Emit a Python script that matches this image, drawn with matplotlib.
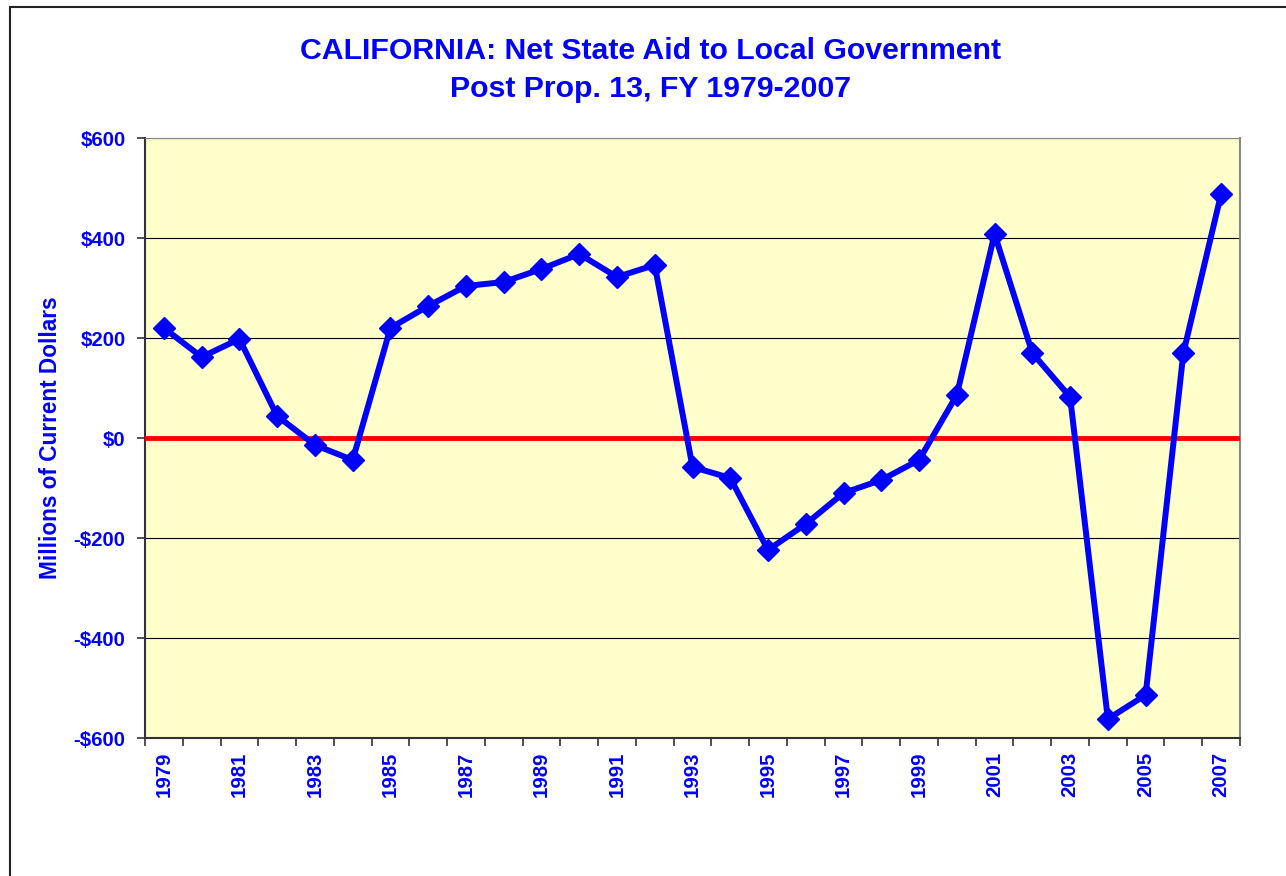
import matplotlib
matplotlib.use("Agg")
import matplotlib.pyplot as plt
from matplotlib.patches import Rectangle

plt.rcParams['font.family'] = ['Liberation Sans', 'DejaVu Sans']

# Net state aid, millions of current dollars
years = list(range(1979, 2008))
net_aid = [220, 162, 198, 44, -14, -44, 220, 264, 304, 312,
           338, 368, 322, 346, -58, -80, -224, -172, -110, -84,
           -44, 86, 408, 170, 82, -562, -514, 170, 488]
y_ticks = [-600, -400, -200, 0, 200, 400, 600]
y_labels = ['-$600', '-$400', '-$200', '$0', '$200', '$400', '$600']

BLUE = '#0000FF'

fig = plt.figure(figsize=(12.86, 8.76), dpi=100)
ax = fig.add_axes([145 / 1286, 1 - 738 / 876, (1240 - 145) / 1286, 600 / 876])
ax.set_facecolor('#FFFFCC')

# outer chart border (runs off the right and bottom edge)
fig.patches.append(Rectangle((10 / 1286, -0.05), 1.2, 1.05 - 7.5 / 876,
                             transform=fig.transFigure, fill=False,
                             edgecolor='#222222', linewidth=1.5))

idx = list(range(len(years)))
ax.axhline(0, color='#FF0000', linewidth=3.5, zorder=3)
ax.plot(idx, net_aid, color=BLUE, linewidth=4.3, marker='D',
        markersize=11, zorder=4, clip_on=False)

ax.set_xlim(-0.5, len(years) - 0.5)
ax.set_ylim(-600, 600)
ax.set_yticks(y_ticks)
ax.set_yticklabels(y_labels)
ax.grid(axis='y', color='black', linewidth=0.8)
ax.set_axisbelow(True)

ax.set_xticks([i - 0.5 for i in range(len(years) + 1)], minor=False)
ax.set_xticklabels([])
ax.set_xticks(idx[::2], minor=True)
ax.set_xticklabels([str(y) for y in years[::2]], minor=True, rotation=90)
ax.tick_params(axis='x', which='minor', length=0, pad=10)
ax.tick_params(axis='x', which='major', length=6, color='#333333', width=1.2)
ax.tick_params(axis='y', length=6, color='#333333', width=1.2, pad=8)

for lab in ax.get_yticklabels() + ax.get_xticklabels(minor=True):
    lab.set_color(BLUE)
    lab.set_fontweight('bold')
    lab.set_fontsize(14.7)

ax.spines['left'].set_color('#333333')
ax.spines['left'].set_linewidth(1.5)
ax.spines['bottom'].set_color('#333333')
ax.spines['bottom'].set_linewidth(1.5)
ax.spines['top'].set_color('#888888')
ax.spines['right'].set_color('#888888')
ax.spines['right'].set_linewidth(1.5)

ax.set_ylabel('Millions of Current Dollars', color=BLUE, fontsize=16.3,
              fontweight='bold')
ax.yaxis.set_label_coords(-0.0755, 0.5)

fig.text(651 / 1286, 1 - 70 / 876,
         'CALIFORNIA: Net State Aid to Local Government\nPost Prop. 13, FY 1979-2007',
         ha='center', va='center', color=BLUE, fontsize=21.8, fontweight='bold',
         linespacing=1.45)

fig.savefig('out.png', dpi=100)
